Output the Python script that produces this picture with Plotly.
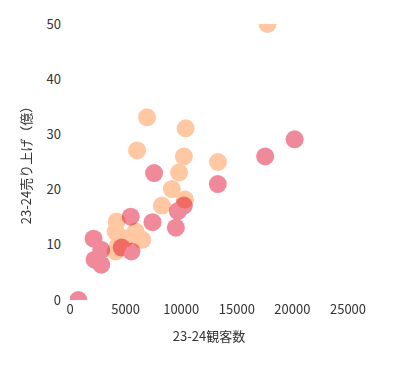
import plotly.graph_objects as go

# Series A (peach)
peach_x = [17760, 6930, 10400, 6030, 10240, 13310, 9810, 9160, 10330, 8260,
           4200, 4100, 5900, 6500, 5000, 4300, 4100]
peach_y = [50.0, 33.1, 31.1, 27.1, 26.0, 25.0, 23.1, 20.1, 18.2, 17.1,
           14.2, 12.4, 12.4, 10.9, 11.2, 9.8, 8.8]

# Series B (pink)
pink_x = [7560, 17550, 20200, 13290, 9700, 10240, 5460, 7420, 9520, 2120,
          2810, 2210, 2810, 5520, 4650, 750]
pink_y = [23.0, 26.0, 29.1, 21.0, 16.1, 17.1, 15.1, 14.1, 13.1, 11.1,
          9.1, 7.3, 6.4, 8.8, 9.5, 0.0]

x_ticks = [0, 5000, 10000, 15000, 20000, 25000]
x_tick_labels = ["0", "5000", "10000", "15000", "20000", "25000"]
y_ticks = [0, 10, 20, 30, 40, 50]
y_tick_labels = ["0", "10", "20", "30", "40", "50"]

FONT = "Noto Sans CJK JP"

fig = go.Figure()
fig.add_trace(go.Scatter(x=peach_x, y=peach_y, mode="markers",
                         marker=dict(size=18, color="#FFC8A2", line=dict(width=0)),
                         showlegend=False, hoverinfo="skip"))
fig.add_trace(go.Scatter(x=pink_x, y=pink_y, mode="markers",
                         marker=dict(size=18, color="#F08A9B", line=dict(width=0)),
                         showlegend=False, hoverinfo="skip"))

fig.update_layout(
    width=411, height=366,
    margin=dict(l=70, r=63, t=24, b=66),
    paper_bgcolor="white", plot_bgcolor="white",
    font=dict(family=FONT, size=13, color="#333333"),
    xaxis=dict(range=[0, 25000], tickvals=x_ticks, ticktext=x_tick_labels,
               showgrid=False, zeroline=False, showline=False, ticks="",
               tickfont=dict(size=13),
               title=dict(text="23-24観客数", standoff=14, font=dict(size=13))),
    yaxis=dict(range=[0, 50], tickvals=y_ticks, ticktext=y_tick_labels,
               showgrid=False, zeroline=False, showline=False, ticks="",
               ticklabelstandoff=8, tickfont=dict(size=13),
               title=dict(text="23-24売り上げ（億）", standoff=12, font=dict(size=13))),
)

post = """
var gd = document.getElementById('{plot_id}');
function blendTraces(){
  var tr = gd.querySelectorAll('.scatterlayer .trace');
  tr.forEach(function(t){ t.style.mixBlendMode = 'multiply'; });
}
blendTraces();
if (gd.on) { gd.on('plotly_afterplot', blendTraces); }
"""

fig.write_html("out.html", post_script=post)
